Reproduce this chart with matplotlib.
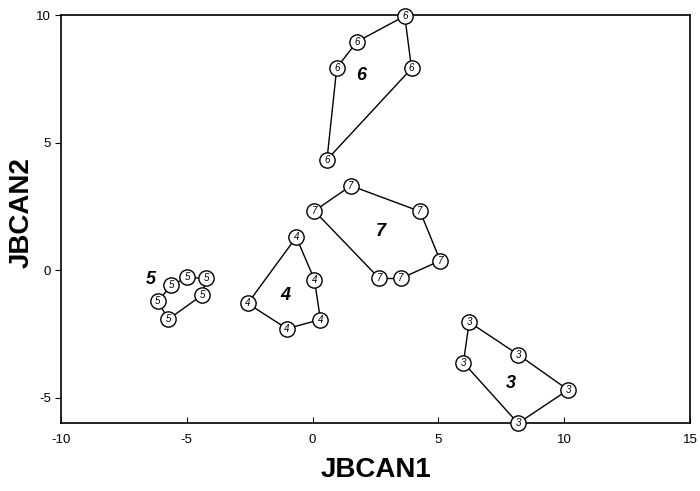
import matplotlib
matplotlib.use("Agg")
import matplotlib.pyplot as plt

plt.rcParams['font.family'] = ['Liberation Sans', 'DejaVu Sans']
plt.rcParams['axes.unicode_minus'] = False

# Canonical scores per group, listed in order around each group's outline
g3_x = [6.22, 8.17, 10.15, 8.16, 5.99]
g3_y = [-2.04, -3.32, -4.70, -6.01, -3.63]

g4_x = [-0.65, 0.07, 0.31, -1.02, -2.58]
g4_y = [1.29, -0.37, -1.94, -2.30, -1.31]

g5_x = [-4.99, -4.23, -4.39, -5.73, -6.15, -5.62]
g5_y = [-0.29, -0.33, -0.98, -1.93, -1.23, -0.60]

g6_x = [3.66, 3.93, 0.57, 0.96, 1.76]
g6_y = [9.97, 7.91, 4.33, 7.94, 8.96]

g7_x = [1.52, 4.27, 5.07, 3.50, 2.65, 0.07]
g7_y = [3.31, 2.30, 0.37, -0.33, -0.33, 2.32]

groups = ["3", "4", "5", "6", "7"]
xs = [g3_x, g4_x, g5_x, g6_x, g7_x]
ys = [g3_y, g4_y, g5_y, g6_y, g7_y]

# Group label positions
label_x = [7.86, -1.07, -6.42, 1.92, 2.71]
label_y = [-4.46, -0.98, -0.37, 7.64, 1.51]

x_ticks = [-10, -5, 0, 5, 10, 15]
y_ticks = [-5, 0, 5, 10]

fig = plt.figure(figsize=(7.0, 4.91), dpi=100)
ax = fig.add_axes([0.087, 0.1385, 0.899, 0.8305])

for g, gx, gy, lx, ly in zip(groups, xs, ys, label_x, label_y):
    ax.plot(gx + gx[:1], gy + gy[:1], color='black', lw=1.0, zorder=2)
    ax.plot(gx, gy, linestyle='none', marker='o', markersize=11,
            markerfacecolor='white', markeredgecolor='black',
            markeredgewidth=1.0, zorder=3, clip_on=False)
    for px, py in zip(gx, gy):
        ax.text(px, py, g, fontsize=7, style='italic', ha='center',
                va='center', zorder=4)
    ax.text(lx, ly, g, fontsize=13, fontweight='bold', style='italic',
            ha='center', va='center', zorder=4)

ax.set_xlim(-10, 15)
ax.set_ylim(-6, 10)
ax.set_xticks(x_ticks)
ax.set_yticks(y_ticks)
ax.tick_params(axis='x', direction='in', length=4, labelsize=9.5, pad=8)
ax.tick_params(axis='y', direction='out', length=4, labelsize=9.5, pad=3)
for s in ax.spines.values():
    s.set_linewidth(1.2)

ax.set_xlabel('JBCAN1', fontsize=20, fontweight='bold', va='center')
ax.xaxis.set_label_coords(0.5, -0.115)
ax.set_ylabel('JBCAN2', fontsize=20, fontweight='bold', va='center')
ax.yaxis.set_label_coords(-0.063, 0.517)

fig.savefig('out.png', dpi=100)
